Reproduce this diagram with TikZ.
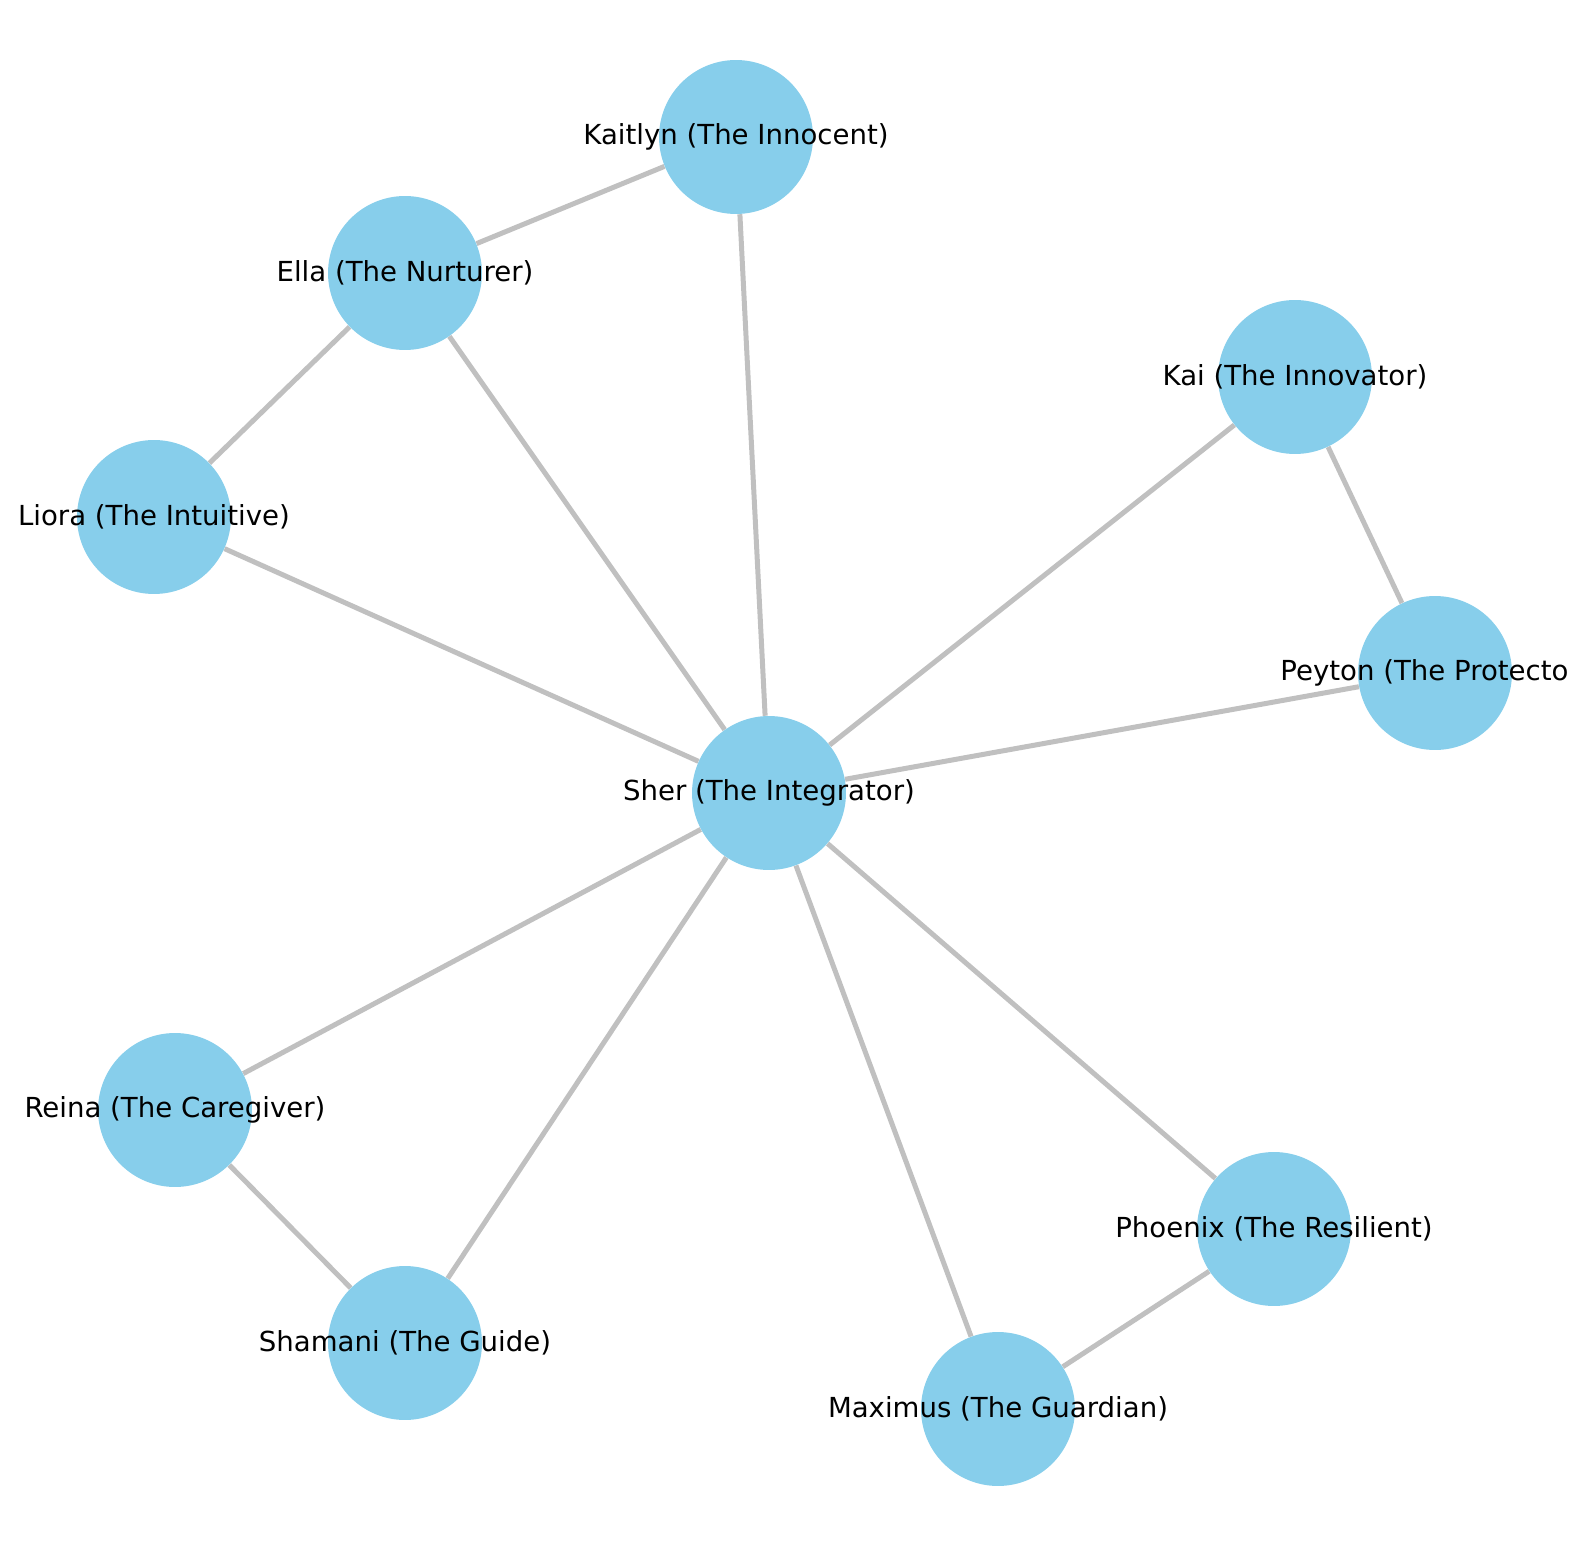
\documentclass[tikz,border=0pt]{standalone}
\usepackage{fontspec}
\setmainfont{DejaVu Sans}
\usetikzlibrary{backgrounds}
\definecolor{azulcielo}{HTML}{87CEEB}
\definecolor{grisplata}{HTML}{C0C0C0}
\colorlet{colNodo}{azulcielo}
\colorlet{colArista}{grisplata}
\tikzset{
  nodoPersona/.style={
    circle, fill=colNodo, draw=none,
    minimum size=3.08cm, inner sep=0pt
  },
  etiquetaPersona/.style={
    font=\fontsize{15.7}{19}\selectfont, text=black, inner sep=0pt
  },
  arista/.style={draw=colArista, line width=0.1cm},
}
\begin{document}
\begin{tikzpicture}[x=0.02cm, y=-0.02cm]
    \useasboundingbox (0,0) rectangle (1589,1557);
    \node[nodoPersona] (sher) at (769,793) {};
    \node[nodoPersona] (kaitlyn) at (736,137) {};
    \node[nodoPersona] (ella) at (405,273) {};
    \node[nodoPersona] (kai) at (1295,377) {};
    \node[nodoPersona] (liora) at (154,517) {};
    \node[nodoPersona] (peyton) at (1435,673) {};
    \node[nodoPersona] (reina) at (175,1110) {};
    \node[nodoPersona] (phoenix) at (1274,1229) {};
    \node[nodoPersona] (shamani) at (405,1343) {};
    \node[nodoPersona] (maximus) at (998,1409) {};
    % etiquetas encima de los circulos
    \node[etiquetaPersona] (tSher) at (sher) {Sher (The Integrator)};
    \node[etiquetaPersona] (tKaitlyn) at (kaitlyn) {Kaitlyn (The Innocent)};
    \node[etiquetaPersona] (tElla) at (ella) {Ella (The Nurturer)};
    \node[etiquetaPersona] (tKai) at (kai) {Kai (The Innovator)};
    \node[etiquetaPersona] (tLiora) at (liora) {Liora (The Intuitive)};
    \node[etiquetaPersona, anchor=west] (tPeyton) at ([xshift=-3.1cm]peyton.center) {Peyton (The Protecto};
    \node[etiquetaPersona] (tReina) at (reina) {Reina (The Caregiver)};
    \node[etiquetaPersona] (tPhoenix) at (phoenix) {Phoenix (The Resilient)};
    \node[etiquetaPersona] (tShamani) at (shamani) {Shamani (The Guide)};
    \node[etiquetaPersona] (tMaximus) at (maximus) {Maximus (The Guardian)};
    % aristas
    \begin{scope}[on background layer]
      \draw[arista] (kaitlyn) -- (ella);
      \draw[arista] (kaitlyn) -- (sher);
      \draw[arista] (ella) -- (sher);
      \draw[arista] (ella) -- (liora);
      \draw[arista] (liora) -- (sher);
      \draw[arista] (kai) -- (sher);
      \draw[arista] (kai) -- (peyton);
      \draw[arista] (peyton) -- (sher);
      \draw[arista] (sher) -- (reina);
      \draw[arista] (sher) -- (shamani);
      \draw[arista] (sher) -- (maximus);
      \draw[arista] (sher) -- (phoenix);
      \draw[arista] (reina) -- (shamani);
      \draw[arista] (phoenix) -- (maximus);
    \end{scope}
  \end{tikzpicture}
\end{document}
